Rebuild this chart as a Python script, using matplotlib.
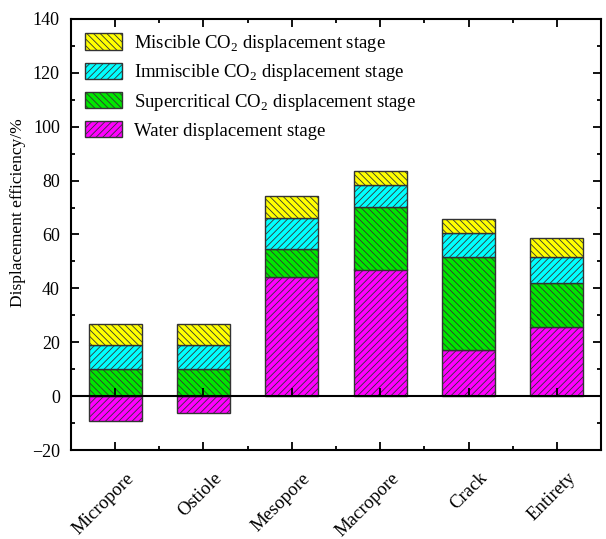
import matplotlib.pyplot as plt
import matplotlib.transforms as mtransforms
import numpy as np

plt.rcParams['font.family'] = ['Liberation Serif', 'DejaVu Serif']
plt.rcParams['mathtext.fontset'] = 'custom'
plt.rcParams['mathtext.rm'] = 'Liberation Serif'
plt.rcParams['hatch.color'] = '#2a2a2a'
plt.rcParams['hatch.linewidth'] = 0.6

# Pore types
categories = ['Micropore', 'Ostiole', 'Mesopore', 'Macropore', 'Crack', 'Entirety']

# Stage contributions to displacement efficiency (%)
water = [-9.3, -6.4, 44.2, 47.0, 17.1, 25.7]
supercritical = [9.9, 9.9, 10.5, 23.2, 34.5, 16.4]
immiscible = [9.0, 9.0, 11.5, 8.2, 9.0, 9.4]
miscible = [7.8, 7.8, 8.0, 5.1, 5.0, 7.1]

stage_labels = ['Water displacement stage',
                'Supercritical CO$_2$ displacement stage',
                'Immiscible CO$_2$ displacement stage',
                'Miscible CO$_2$ displacement stage']
stage_colors = ['#ff00ff', '#00e600', '#00ffff', '#ffff00']
stage_hatches = ['/////', '\\\\\\\\\\', '/////', '\\\\\\\\\\']

fig = plt.figure(figsize=(6.06, 5.39), dpi=100)
ax = fig.add_axes([0.117, 0.165, 0.875, 0.8])

x = np.arange(len(categories))
width = 0.6
edge = '#333333'

series = [water, supercritical, immiscible, miscible]
bottom = np.zeros(len(categories))
handles = []
for i, (vals, lab, col, hat) in enumerate(zip(series, stage_labels, stage_colors, stage_hatches)):
    vals = np.array(vals)
    if i == 0:
        bars = ax.bar(x, vals, width, color=col, hatch=hat, edgecolor=edge, linewidth=1, label=lab)
        bottom = np.maximum(vals, 0)
    else:
        bars = ax.bar(x, vals, width, bottom=bottom, color=col, hatch=hat, edgecolor=edge, linewidth=1, label=lab)
        bottom = bottom + vals
    handles.append(bars)

# zero line with small ticks at each category
ax.axhline(0, color='black', lw=1.5, zorder=5)
ax.plot(x, np.zeros(len(x)), marker=2, ls='none', ms=6, mew=1.3, color='black', zorder=6)

ax.set_xlim(-0.5, 5.5)
ax.set_ylim(-20, 140)
ax.set_yticks(np.arange(-20, 141, 20))
ax.set_yticks(np.arange(-20, 141, 10), minor=True)
ax.set_yticklabels(['\u221220'] + [str(v) for v in range(0, 141, 20)])
ax.set_xticks(x)
ax.set_xticks(np.arange(-0.5, 5.6, 1)[1:-1], minor=True)
ax.set_xticklabels(categories, rotation=45, ha='right', rotation_mode='anchor', fontsize=13.5)

ax.tick_params(which='both', direction='in', top=True, right=True, width=1.3)
ax.tick_params(axis='y', labelsize=13, pad=8)
ax.tick_params(which='major', length=6)
ax.tick_params(which='minor', length=3)
ax.tick_params(axis='x', pad=14)
for s in ax.spines.values():
    s.set_linewidth(1.5)

# nudge rotated category labels to the right
shift = mtransforms.ScaledTranslation(10 / 100, 0, fig.dpi_scale_trans)
for lbl in ax.get_xticklabels():
    lbl.set_transform(lbl.get_transform() + shift)

ax.set_ylabel('Displacement efficiency/%', fontsize=12.5)
ax.yaxis.set_label_coords(-0.085, 0.55)

ax.legend(handles[::-1], stage_labels[::-1], loc='upper left', frameon=False, fontsize=13.5,
          handlelength=2.0, handleheight=0.95, handletextpad=0.6, labelspacing=0.45,
          borderaxespad=0.35, borderpad=0.4)

plt.savefig('out.png', dpi=100)
